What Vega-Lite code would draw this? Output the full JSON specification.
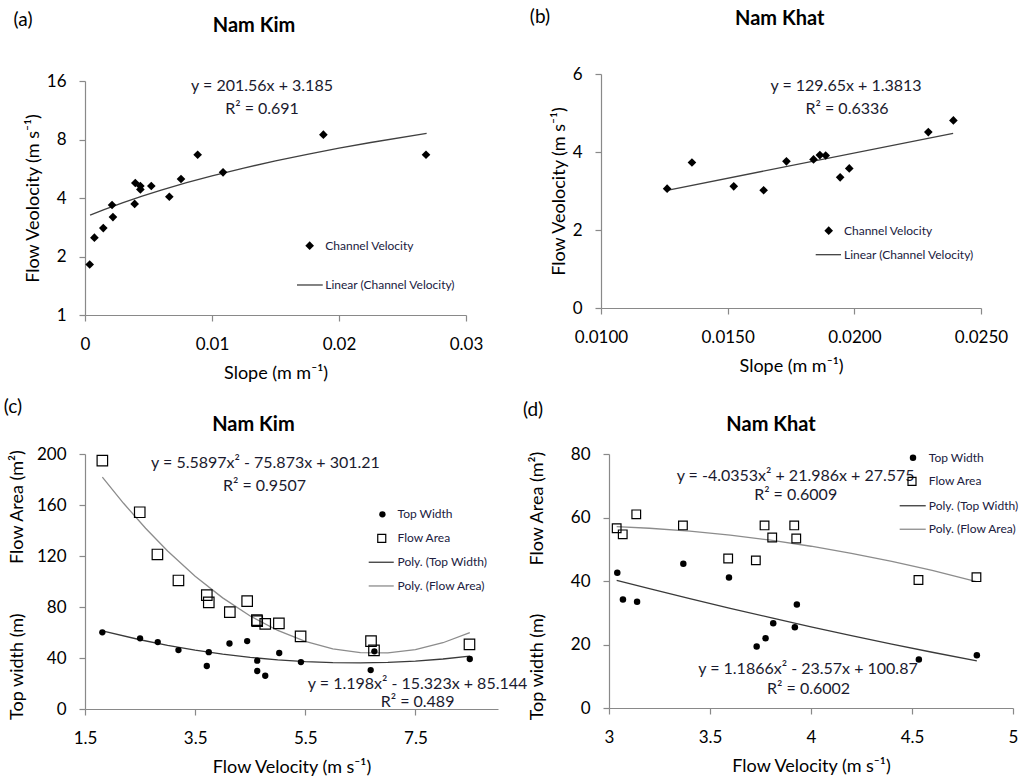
{
  "$schema": "https://vega.github.io/schema/vega-lite/v6.json",
  "background": "white",
  "padding": {"left": 3, "top": 7, "right": 0, "bottom": 0},
  "config": {
    "font": "Lato",
    "view": {"stroke": null},
    "scale": {"nice": false},
    "axis": {"grid": false, "domainColor": "#898989", "tickColor": "#898989", "domainWidth": 1.2, "tickWidth": 1.2, "tickSize": 6, "labelFontSize": 17, "labelColor": "#000", "titleFontSize": 18, "titleFontWeight": "normal", "titleColor": "#000", "labelFlush": false, "labelOverlap": false},
    "axisX": {"labelPadding": 15, "titlePadding": 12},
    "axisY": {"labelPadding": 13, "titlePadding": 4},
    "text": {"color": "#000"}
  },
  "datasets": {
    "one": [{}],
    "a_pts": [
      {"slope": 0.00037, "velocity": 1.82}, {"slope": 0.00074, "velocity": 2.50}, {"slope": 0.00144, "velocity": 2.80},
      {"slope": 0.00213, "velocity": 3.68}, {"slope": 0.0022, "velocity": 3.19}, {"slope": 0.00391, "velocity": 3.73},
      {"slope": 0.00396, "velocity": 4.78}, {"slope": 0.00436, "velocity": 4.61}, {"slope": 0.00436, "velocity": 4.43},
      {"slope": 0.00522, "velocity": 4.61}, {"slope": 0.00664, "velocity": 4.06}, {"slope": 0.00756, "velocity": 5.01},
      {"slope": 0.00887, "velocity": 6.68}, {"slope": 0.01087, "velocity": 5.42}, {"slope": 0.01877, "velocity": 8.47},
      {"slope": 0.02685, "velocity": 6.68}
    ],
    "a_fit": [
      {"slope": 0.0004, "velocity": 3.266}, {"slope": 0.0015, "velocity": 3.487}, {"slope": 0.003, "velocity": 3.790},
      {"slope": 0.0045, "velocity": 4.092}, {"slope": 0.006, "velocity": 4.394}, {"slope": 0.008, "velocity": 4.797},
      {"slope": 0.01, "velocity": 5.201}, {"slope": 0.0125, "velocity": 5.705}, {"slope": 0.015, "velocity": 6.208},
      {"slope": 0.0175, "velocity": 6.712}, {"slope": 0.02, "velocity": 7.216}, {"slope": 0.0225, "velocity": 7.720},
      {"slope": 0.0269, "velocity": 8.607}
    ],
    "b_pts": [
      {"slope": 0.01261, "velocity": 3.06}, {"slope": 0.01359, "velocity": 3.73}, {"slope": 0.01524, "velocity": 3.12},
      {"slope": 0.01642, "velocity": 3.02}, {"slope": 0.01732, "velocity": 3.76}, {"slope": 0.01839, "velocity": 3.81},
      {"slope": 0.01864, "velocity": 3.92}, {"slope": 0.01887, "velocity": 3.91}, {"slope": 0.01944, "velocity": 3.35},
      {"slope": 0.0198, "velocity": 3.58}, {"slope": 0.02292, "velocity": 4.51}, {"slope": 0.02391, "velocity": 4.81}
    ],
    "b_fit": [{"slope": 0.01261, "velocity": 3.016}, {"slope": 0.0239, "velocity": 4.480}],
    "c_width": [
      {"velocity": 1.815, "top_width": 60.1}, {"velocity": 2.50, "top_width": 55.4}, {"velocity": 2.821, "top_width": 52.5},
      {"velocity": 3.197, "top_width": 46.2}, {"velocity": 3.748, "top_width": 44.6}, {"velocity": 3.712, "top_width": 33.7},
      {"velocity": 4.124, "top_width": 51.4}, {"velocity": 4.445, "top_width": 53.3}, {"velocity": 4.627, "top_width": 37.9},
      {"velocity": 4.627, "top_width": 29.8}, {"velocity": 4.773, "top_width": 26.1}, {"velocity": 5.027, "top_width": 43.9},
      {"velocity": 5.421, "top_width": 36.8}, {"velocity": 6.688, "top_width": 30.5}, {"velocity": 6.755, "top_width": 45.2},
      {"velocity": 8.488, "top_width": 39.2}
    ],
    "c_area": [
      {"velocity": 1.815, "flow_area": 194.8}, {"velocity": 2.494, "flow_area": 154.3}, {"velocity": 2.815, "flow_area": 121.2},
      {"velocity": 3.197, "flow_area": 100.8}, {"velocity": 3.712, "flow_area": 89.3}, {"velocity": 3.748, "flow_area": 83.6},
      {"velocity": 4.130, "flow_area": 76.0}, {"velocity": 4.445, "flow_area": 84.6}, {"velocity": 4.621, "flow_area": 69.7},
      {"velocity": 4.627, "flow_area": 68.9}, {"velocity": 4.773, "flow_area": 66.8}, {"velocity": 5.021, "flow_area": 67.1},
      {"velocity": 5.415, "flow_area": 56.9}, {"velocity": 6.694, "flow_area": 53.3}, {"velocity": 6.748, "flow_area": 46.0},
      {"velocity": 8.482, "flow_area": 50.7}
    ],
    "c_width_fit": [
      {"velocity": 1.815, "top_width": 61.28}, {"velocity": 2.5, "top_width": 54.32}, {"velocity": 3.0, "top_width": 49.96},
      {"velocity": 3.5, "top_width": 46.19}, {"velocity": 4.0, "top_width": 43.02}, {"velocity": 4.5, "top_width": 40.45},
      {"velocity": 5.0, "top_width": 38.48}, {"velocity": 5.5, "top_width": 37.11}, {"velocity": 6.0, "top_width": 36.33},
      {"velocity": 6.5, "top_width": 36.16}, {"velocity": 7.0, "top_width": 36.59}, {"velocity": 7.5, "top_width": 37.61},
      {"velocity": 8.0, "top_width": 39.23}, {"velocity": 8.488, "top_width": 41.39}
    ],
    "c_area_fit": [
      {"velocity": 1.815, "flow_area": 181.9}, {"velocity": 2.2, "flow_area": 161.34}, {"velocity": 2.6, "flow_area": 141.73},
      {"velocity": 3.0, "flow_area": 123.90}, {"velocity": 3.5, "flow_area": 104.13}, {"velocity": 4.0, "flow_area": 87.15},
      {"velocity": 4.5, "flow_area": 72.97}, {"velocity": 5.0, "flow_area": 61.59}, {"velocity": 5.5, "flow_area": 53.00},
      {"velocity": 6.0, "flow_area": 47.20}, {"velocity": 6.5, "flow_area": 44.20}, {"velocity": 7.0, "flow_area": 43.99},
      {"velocity": 7.5, "flow_area": 46.58}, {"velocity": 8.0, "flow_area": 51.97}, {"velocity": 8.488, "flow_area": 59.92}
    ],
    "d_width": [
      {"velocity": 3.041, "top_width": 42.6}, {"velocity": 3.069, "top_width": 34.2}, {"velocity": 3.139, "top_width": 33.5},
      {"velocity": 3.368, "top_width": 45.4}, {"velocity": 3.594, "top_width": 41.1}, {"velocity": 3.731, "top_width": 19.4},
      {"velocity": 3.775, "top_width": 22.0}, {"velocity": 3.813, "top_width": 26.7}, {"velocity": 3.920, "top_width": 25.4},
      {"velocity": 3.930, "top_width": 32.6}, {"velocity": 4.534, "top_width": 15.3}, {"velocity": 4.821, "top_width": 16.6}
    ],
    "d_area": [
      {"velocity": 3.038, "flow_area": 56.6}, {"velocity": 3.068, "flow_area": 54.7}, {"velocity": 3.135, "flow_area": 61.0},
      {"velocity": 3.366, "flow_area": 57.5}, {"velocity": 3.590, "flow_area": 47.1}, {"velocity": 3.727, "flow_area": 46.5},
      {"velocity": 3.770, "flow_area": 57.5}, {"velocity": 3.808, "flow_area": 53.7}, {"velocity": 3.917, "flow_area": 57.5},
      {"velocity": 3.927, "flow_area": 53.4}, {"velocity": 4.532, "flow_area": 40.3}, {"velocity": 4.819, "flow_area": 41.2}
    ],
    "d_width_fit": [
      {"velocity": 3.038, "top_width": 40.22}, {"velocity": 3.2, "top_width": 37.60}, {"velocity": 3.4, "top_width": 34.45},
      {"velocity": 3.6, "top_width": 31.40}, {"velocity": 3.8, "top_width": 28.44}, {"velocity": 4.0, "top_width": 25.58},
      {"velocity": 4.2, "top_width": 22.81}, {"velocity": 4.4, "top_width": 20.13}, {"velocity": 4.6, "top_width": 17.56},
      {"velocity": 4.821, "top_width": 14.82}
    ],
    "d_area_fit": [
      {"velocity": 3.038, "flow_area": 57.12}, {"velocity": 3.2, "flow_area": 56.61}, {"velocity": 3.4, "flow_area": 55.68},
      {"velocity": 3.6, "flow_area": 54.43}, {"velocity": 3.8, "flow_area": 52.85}, {"velocity": 4.0, "flow_area": 50.95},
      {"velocity": 4.2, "flow_area": 48.73}, {"velocity": 4.4, "flow_area": 46.19}, {"velocity": 4.6, "flow_area": 43.32},
      {"velocity": 4.819, "flow_area": 39.82}
    ]
  },
  "bounds": "flush",
  "columns": 2,
  "align": {"row": "all", "column": "none"},
  "spacing": {"row": 125, "column": 111},
  "concat": [
    {
      "width": 381,
      "height": 241,
      "layer": [
        {
          "data": {"name": "a_fit"},
          "mark": {"type": "line", "color": "#404040", "strokeWidth": 1.3},
          "encoding": {
            "x": {"field": "slope", "type": "quantitative", "scale": {"domain": [0, 0.03], "nice": false}, "axis": {"title": "Slope (m m⁻¹)", "values": [0, 0.01, 0.02, 0.03], "format": "~g", "labelOverlap": false}},
            "y": {"field": "velocity", "type": "quantitative", "scale": {"type": "log", "base": 2, "domain": [1, 16], "range": [241, 7], "nice": false}, "axis": {"title": "Flow Veolocity (m s⁻¹)", "values": [1, 2, 4, 8, 16], "format": "d", "labelOverlap": false}}
          }
        },
        {
          "data": {"name": "a_pts"},
          "mark": {"type": "point", "shape": "diamond", "filled": true, "color": "#000", "size": 75, "opacity": 1},
          "encoding": {"x": {"field": "slope", "type": "quantitative"}, "y": {"field": "velocity", "type": "quantitative"}}
        },
        {"data": {"name": "one"}, "mark": {"type": "text", "text": "(a)", "fontSize": 19, "align": "center", "baseline": "middle"}, "encoding": {"x": {"datum": -0.00488, "type": "quantitative"}, "y": {"datum": 33, "type": "quantitative"}}},
        {"data": {"name": "one"}, "mark": {"type": "text", "text": "Nam Kim", "fontSize": 20, "fontWeight": "bold", "align": "center", "baseline": "middle"}, "encoding": {"x": {"datum": 0.01331, "type": "quantitative"}, "y": {"datum": 30.7, "type": "quantitative"}}},
        {"data": {"name": "one"}, "mark": {"type": "text", "text": "y = 201.56x + 3.185", "fontSize": 16, "align": "center", "baseline": "middle", "color": "#1a1a2e"}, "encoding": {"x": {"datum": 0.01394, "type": "quantitative"}, "y": {"datum": 15.08, "type": "quantitative"}}},
        {"data": {"name": "one"}, "mark": {"type": "text", "text": "R² = 0.691", "fontSize": 16, "align": "center", "baseline": "middle", "color": "#1a1a2e"}, "encoding": {"x": {"datum": 0.01394, "type": "quantitative"}, "y": {"datum": 11.48, "type": "quantitative"}}},
        {"data": {"name": "one"}, "mark": {"type": "point", "shape": "diamond", "filled": true, "color": "#000", "size": 75, "opacity": 1}, "encoding": {"x": {"datum": 0.01769, "type": "quantitative"}, "y": {"datum": 2.273, "type": "quantitative"}}},
        {"data": {"name": "one"}, "mark": {"type": "text", "text": "Channel Velocity", "fontSize": 12, "align": "left", "baseline": "middle", "color": "#202040"}, "encoding": {"x": {"datum": 0.01892, "type": "quantitative"}, "y": {"datum": 2.273, "type": "quantitative"}}},
        {"data": {"name": "one"}, "mark": {"type": "rule", "color": "#404040", "strokeWidth": 1.3}, "encoding": {"x": {"datum": 0.01669, "type": "quantitative"}, "x2": {"datum": 0.01872}, "y": {"datum": 1.427, "type": "quantitative"}}},
        {"data": {"name": "one"}, "mark": {"type": "text", "text": "Linear (Channel Velocity)", "fontSize": 12, "align": "left", "baseline": "middle", "color": "#202040"}, "encoding": {"x": {"datum": 0.01892, "type": "quantitative"}, "y": {"datum": 1.427, "type": "quantitative"}}}
      ]
    },
    {
      "width": 372,
      "height": 234,
      "layer": [
        {
          "data": {"name": "b_fit"},
          "mark": {"type": "line", "color": "#404040", "strokeWidth": 1.3},
          "encoding": {
            "x": {"field": "slope", "type": "quantitative", "scale": {"domain": [0.01, 0.025], "range": [-8, 372], "nice": false}, "axis": {"title": "Slope (m m⁻¹)", "values": [0.01, 0.015, 0.02, 0.025], "format": ".4f", "labelOverlap": false}},
            "y": {"field": "velocity", "type": "quantitative", "scale": {"domain": [0, 6], "nice": false}, "axis": {"title": "Flow Veolocity (m s⁻¹)", "values": [0, 1, 2, 3, 4, 5, 6], "format": "d", "labelOverlap": false, "offset": 8}}
          }
        },
        {
          "data": {"name": "b_pts"},
          "mark": {"type": "point", "shape": "diamond", "filled": true, "color": "#000", "size": 75, "opacity": 1},
          "encoding": {"x": {"field": "slope", "type": "quantitative"}, "y": {"field": "velocity", "type": "quantitative"}}
        },
        {"data": {"name": "one"}, "mark": {"type": "text", "text": "(b)", "fontSize": 19, "align": "center", "baseline": "middle"}, "encoding": {"x": {"datum": 0.007592, "type": "quantitative"}, "y": {"datum": 7.462, "type": "quantitative"}}},
        {"data": {"name": "one"}, "mark": {"type": "text", "text": "Nam Khat", "fontSize": 20, "fontWeight": "bold", "align": "center", "baseline": "middle"}, "encoding": {"x": {"datum": 0.017054, "type": "quantitative"}, "y": {"datum": 7.403, "type": "quantitative"}}},
        {"data": {"name": "one"}, "mark": {"type": "text", "text": "y = 129.65x + 1.3813", "fontSize": 16, "align": "center", "baseline": "middle", "color": "#1a1a2e"}, "encoding": {"x": {"datum": 0.019671, "type": "quantitative"}, "y": {"datum": 5.692, "type": "quantitative"}}},
        {"data": {"name": "one"}, "mark": {"type": "text", "text": "R² = 0.6336", "fontSize": 16, "align": "center", "baseline": "middle", "color": "#1a1a2e"}, "encoding": {"x": {"datum": 0.019711, "type": "quantitative"}, "y": {"datum": 5.103, "type": "quantitative"}}},
        {"data": {"name": "one"}, "mark": {"type": "point", "shape": "diamond", "filled": true, "color": "#000", "size": 75, "opacity": 1}, "encoding": {"x": {"datum": 0.018988, "type": "quantitative"}, "y": {"datum": 1.982, "type": "quantitative"}}},
        {"data": {"name": "one"}, "mark": {"type": "text", "text": "Channel Velocity", "fontSize": 12, "align": "left", "baseline": "middle", "color": "#202040"}, "encoding": {"x": {"datum": 0.019592, "type": "quantitative"}, "y": {"datum": 1.982, "type": "quantitative"}}},
        {"data": {"name": "one"}, "mark": {"type": "rule", "color": "#404040", "strokeWidth": 1.3}, "encoding": {"x": {"datum": 0.018475, "type": "quantitative"}, "x2": {"datum": 0.019474}, "y": {"datum": 1.367, "type": "quantitative"}}},
        {"data": {"name": "one"}, "mark": {"type": "text", "text": "Linear (Channel Velocity)", "fontSize": 12, "align": "left", "baseline": "middle", "color": "#202040"}, "encoding": {"x": {"datum": 0.019592, "type": "quantitative"}, "y": {"datum": 1.367, "type": "quantitative"}}}
      ]
    },
    {
      "width": 413,
      "height": 255,
      "layer": [
        {
          "data": {"name": "c_area_fit"},
          "mark": {"type": "line", "color": "#8c8c8c", "strokeWidth": 1.3},
          "encoding": {
            "x": {"field": "velocity", "type": "quantitative", "scale": {"domain": [1.5, 9], "nice": false}, "axis": {"title": "Flow Velocity (m s⁻¹)", "values": [1.5, 3.5, 5.5, 7.5], "format": ".1f", "labelOverlap": false}},
            "y": {"field": "flow_area", "type": "quantitative", "scale": {"domain": [0, 200], "nice": false}, "axis": {"title": null, "values": [0, 40, 80, 120, 160, 200], "format": "d", "labelOverlap": false}}
          }
        },
        {
          "data": {"name": "c_width_fit"},
          "mark": {"type": "line", "color": "#3a3a3a", "strokeWidth": 1.3},
          "encoding": {"x": {"field": "velocity", "type": "quantitative"}, "y": {"field": "top_width", "type": "quantitative"}}
        },
        {
          "data": {"name": "c_area"},
          "mark": {"type": "point", "shape": "square", "filled": false, "color": "#000", "strokeWidth": 1.2, "size": 110, "opacity": 1},
          "encoding": {"x": {"field": "velocity", "type": "quantitative"}, "y": {"field": "flow_area", "type": "quantitative"}}
        },
        {
          "data": {"name": "c_width"},
          "mark": {"type": "circle", "color": "#000", "size": 40, "opacity": 1},
          "encoding": {"x": {"field": "velocity", "type": "quantitative"}, "y": {"field": "top_width", "type": "quantitative"}}
        },
        {"data": {"name": "one"}, "mark": {"type": "text", "text": "(c)", "fontSize": 19, "align": "center", "baseline": "middle"}, "encoding": {"x": {"datum": 0.189, "type": "quantitative"}, "y": {"datum": 236.9, "type": "quantitative"}}},
        {"data": {"name": "one"}, "mark": {"type": "text", "text": "Nam Kim", "fontSize": 20, "fontWeight": "bold", "align": "center", "baseline": "middle"}, "encoding": {"x": {"datum": 4.558, "type": "quantitative"}, "y": {"datum": 222.7, "type": "quantitative"}}},
        {"data": {"name": "one"}, "mark": {"type": "text", "text": "y = 5.5897x² - 75.873x + 301.21", "fontSize": 16, "align": "center", "baseline": "middle", "color": "#1a1a2e"}, "encoding": {"x": {"datum": 4.777, "type": "quantitative"}, "y": {"datum": 193.2, "type": "quantitative"}}},
        {"data": {"name": "one"}, "mark": {"type": "text", "text": "R² = 0.9507", "fontSize": 16, "align": "center", "baseline": "middle", "color": "#1a1a2e"}, "encoding": {"x": {"datum": 4.759, "type": "quantitative"}, "y": {"datum": 174.9, "type": "quantitative"}}},
        {"data": {"name": "one"}, "mark": {"type": "text", "text": "y = 1.198x² - 15.323x + 85.144", "fontSize": 16, "align": "center", "baseline": "middle", "color": "#1a1a2e"}, "encoding": {"x": {"datum": 7.539, "type": "quantitative"}, "y": {"datum": 19.6, "type": "quantitative"}}},
        {"data": {"name": "one"}, "mark": {"type": "text", "text": "R² = 0.489", "fontSize": 16, "align": "center", "baseline": "middle", "color": "#1a1a2e"}, "encoding": {"x": {"datum": 7.539, "type": "quantitative"}, "y": {"datum": 5.25, "type": "quantitative"}}},
        {"data": {"name": "one"}, "mark": {"type": "text", "text": "Top width (m)", "fontSize": 18, "angle": 270, "align": "center", "baseline": "middle"}, "encoding": {"x": {"datum": 0.286, "type": "quantitative"}, "y": {"datum": 33.2, "type": "quantitative"}}},
        {"data": {"name": "one"}, "mark": {"type": "text", "text": "Flow Area (m²)", "fontSize": 18, "angle": 270, "align": "center", "baseline": "middle"}, "encoding": {"x": {"datum": 0.286, "type": "quantitative"}, "y": {"datum": 158.4, "type": "quantitative"}}},
        {"data": {"name": "one"}, "mark": {"type": "circle", "color": "#000", "size": 40, "opacity": 1}, "encoding": {"x": {"datum": 6.901, "type": "quantitative"}, "y": {"datum": 152.7, "type": "quantitative"}}},
        {"data": {"name": "one"}, "mark": {"type": "text", "text": "Top Width", "fontSize": 12, "align": "left", "baseline": "middle", "color": "#202040"}, "encoding": {"x": {"datum": 7.175, "type": "quantitative"}, "y": {"datum": 152.7, "type": "quantitative"}}},
        {"data": {"name": "one"}, "mark": {"type": "point", "shape": "square", "filled": false, "color": "#000", "strokeWidth": 1.2, "size": 64, "opacity": 1}, "encoding": {"x": {"datum": 6.889, "type": "quantitative"}, "y": {"datum": 133.9, "type": "quantitative"}}},
        {"data": {"name": "one"}, "mark": {"type": "text", "text": "Flow Area", "fontSize": 12, "align": "left", "baseline": "middle", "color": "#202040"}, "encoding": {"x": {"datum": 7.175, "type": "quantitative"}, "y": {"datum": 133.9, "type": "quantitative"}}},
        {"data": {"name": "one"}, "mark": {"type": "rule", "color": "#3a3a3a", "strokeWidth": 1.3}, "encoding": {"x": {"datum": 6.652, "type": "quantitative"}, "x2": {"datum": 7.107}, "y": {"datum": 115.1, "type": "quantitative"}}},
        {"data": {"name": "one"}, "mark": {"type": "text", "text": "Poly. (Top Width)", "fontSize": 12, "align": "left", "baseline": "middle", "color": "#202040"}, "encoding": {"x": {"datum": 7.175, "type": "quantitative"}, "y": {"datum": 115.1, "type": "quantitative"}}},
        {"data": {"name": "one"}, "mark": {"type": "rule", "color": "#8c8c8c", "strokeWidth": 1.3}, "encoding": {"x": {"datum": 6.652, "type": "quantitative"}, "x2": {"datum": 7.107}, "y": {"datum": 96.5, "type": "quantitative"}}},
        {"data": {"name": "one"}, "mark": {"type": "text", "text": "Poly. (Flow Area)", "fontSize": 12, "align": "left", "baseline": "middle", "color": "#202040"}, "encoding": {"x": {"datum": 7.175, "type": "quantitative"}, "y": {"datum": 96.5, "type": "quantitative"}}}
      ]
    },
    {
      "width": 404,
      "height": 254,
      "layer": [
        {
          "data": {"name": "d_area_fit"},
          "mark": {"type": "line", "color": "#8c8c8c", "strokeWidth": 1.3},
          "encoding": {
            "x": {"field": "velocity", "type": "quantitative", "scale": {"domain": [3, 5], "nice": false}, "axis": {"title": "Flow Velocity (m s⁻¹)", "values": [3, 3.5, 4, 4.5, 5], "format": "~g", "labelOverlap": false}},
            "y": {"field": "flow_area", "type": "quantitative", "scale": {"domain": [0, 80], "nice": false}, "axis": {"title": null, "values": [0, 20, 40, 60, 80], "format": "d", "labelOverlap": false}}
          }
        },
        {
          "data": {"name": "d_width_fit"},
          "mark": {"type": "line", "color": "#3a3a3a", "strokeWidth": 1.3},
          "encoding": {"x": {"field": "velocity", "type": "quantitative"}, "y": {"field": "top_width", "type": "quantitative"}}
        },
        {
          "data": {"name": "d_area"},
          "mark": {"type": "point", "shape": "square", "filled": false, "color": "#000", "strokeWidth": 1.2, "size": 75, "opacity": 1},
          "encoding": {"x": {"field": "velocity", "type": "quantitative"}, "y": {"field": "flow_area", "type": "quantitative"}}
        },
        {
          "data": {"name": "d_width"},
          "mark": {"type": "circle", "color": "#000", "size": 42, "opacity": 1},
          "encoding": {"x": {"field": "velocity", "type": "quantitative"}, "y": {"field": "top_width", "type": "quantitative"}}
        },
        {"data": {"name": "one"}, "mark": {"type": "text", "text": "(d)", "fontSize": 19, "align": "center", "baseline": "middle"}, "encoding": {"x": {"datum": 2.624, "type": "quantitative"}, "y": {"datum": 93.9, "type": "quantitative"}}},
        {"data": {"name": "one"}, "mark": {"type": "text", "text": "Nam Khat", "fontSize": 20, "fontWeight": "bold", "align": "center", "baseline": "middle"}, "encoding": {"x": {"datum": 3.802, "type": "quantitative"}, "y": {"datum": 89.1, "type": "quantitative"}}},
        {"data": {"name": "one"}, "mark": {"type": "text", "text": "y = -4.0353x² + 21.986x + 27.575", "fontSize": 16, "align": "center", "baseline": "middle", "color": "#1a1a2e"}, "encoding": {"x": {"datum": 3.924, "type": "quantitative"}, "y": {"datum": 72.98, "type": "quantitative"}}},
        {"data": {"name": "one"}, "mark": {"type": "text", "text": "R² = 0.6009", "fontSize": 16, "align": "center", "baseline": "middle", "color": "#1a1a2e"}, "encoding": {"x": {"datum": 3.924, "type": "quantitative"}, "y": {"datum": 66.99, "type": "quantitative"}}},
        {"data": {"name": "one"}, "mark": {"type": "text", "text": "y = 1.1866x² - 23.57x + 100.87", "fontSize": 16, "align": "center", "baseline": "middle", "color": "#1a1a2e"}, "encoding": {"x": {"datum": 3.985, "type": "quantitative"}, "y": {"datum": 12.19, "type": "quantitative"}}},
        {"data": {"name": "one"}, "mark": {"type": "text", "text": "R² = 0.6002", "fontSize": 16, "align": "center", "baseline": "middle", "color": "#1a1a2e"}, "encoding": {"x": {"datum": 3.988, "type": "quantitative"}, "y": {"datum": 6.08, "type": "quantitative"}}},
        {"data": {"name": "one"}, "mark": {"type": "text", "text": "Top width (m)", "fontSize": 18, "angle": 270, "align": "center", "baseline": "middle"}, "encoding": {"x": {"datum": 2.649, "type": "quantitative"}, "y": {"datum": 12.9, "type": "quantitative"}}},
        {"data": {"name": "one"}, "mark": {"type": "text", "text": "Flow Area (m²)", "fontSize": 18, "angle": 270, "align": "center", "baseline": "middle"}, "encoding": {"x": {"datum": 2.649, "type": "quantitative"}, "y": {"datum": 62.8, "type": "quantitative"}}},
        {"data": {"name": "one"}, "mark": {"type": "circle", "color": "#000", "size": 42, "opacity": 1}, "encoding": {"x": {"datum": 4.505, "type": "quantitative"}, "y": {"datum": 78.8, "type": "quantitative"}}},
        {"data": {"name": "one"}, "mark": {"type": "text", "text": "Top Width", "fontSize": 12, "align": "left", "baseline": "middle", "color": "#202040"}, "encoding": {"x": {"datum": 4.583, "type": "quantitative"}, "y": {"datum": 78.8, "type": "quantitative"}}},
        {"data": {"name": "one"}, "mark": {"type": "point", "shape": "square", "filled": false, "color": "#000", "strokeWidth": 1.2, "size": 64, "opacity": 1}, "encoding": {"x": {"datum": 4.5, "type": "quantitative"}, "y": {"datum": 71.4, "type": "quantitative"}}},
        {"data": {"name": "one"}, "mark": {"type": "text", "text": "Flow Area", "fontSize": 12, "align": "left", "baseline": "middle", "color": "#202040"}, "encoding": {"x": {"datum": 4.583, "type": "quantitative"}, "y": {"datum": 71.4, "type": "quantitative"}}},
        {"data": {"name": "one"}, "mark": {"type": "rule", "color": "#3a3a3a", "strokeWidth": 1.3}, "encoding": {"x": {"datum": 4.439, "type": "quantitative"}, "x2": {"datum": 4.568}, "y": {"datum": 63.7, "type": "quantitative"}}},
        {"data": {"name": "one"}, "mark": {"type": "text", "text": "Poly. (Top Width)", "fontSize": 12, "align": "left", "baseline": "middle", "color": "#202040"}, "encoding": {"x": {"datum": 4.583, "type": "quantitative"}, "y": {"datum": 63.7, "type": "quantitative"}}},
        {"data": {"name": "one"}, "mark": {"type": "rule", "color": "#8c8c8c", "strokeWidth": 1.3}, "encoding": {"x": {"datum": 4.439, "type": "quantitative"}, "x2": {"datum": 4.568}, "y": {"datum": 56.3, "type": "quantitative"}}},
        {"data": {"name": "one"}, "mark": {"type": "text", "text": "Poly. (Flow Area)", "fontSize": 12, "align": "left", "baseline": "middle", "color": "#202040"}, "encoding": {"x": {"datum": 4.583, "type": "quantitative"}, "y": {"datum": 56.3, "type": "quantitative"}}}
      ]
    }
  ]
}
